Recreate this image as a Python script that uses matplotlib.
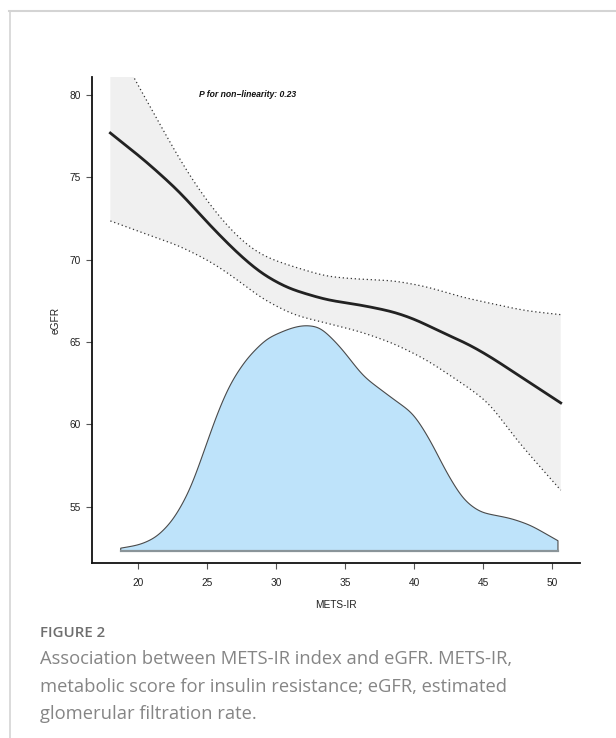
import numpy as np
import matplotlib.pyplot as plt
from matplotlib.patches import Polygon

# values
curve_x = [17.97, 20.46, 22.88, 25.29, 27.22, 28.91, 30.85, 33.65, 36.07, 38.48, 40.17, 42.1, 43.8, 45.49, 47.5, 50.6]
curve_y = [77.69, 76.03, 74.21, 71.99, 70.36, 69.15, 68.25, 67.55, 67.25, 66.84, 66.34, 65.53, 64.92, 64.11, 63.0, 61.3]

upper_x = [17.97, 19.49, 20.46, 21.67, 22.88, 24.09, 25.29, 26.5, 27.71, 29.16, 31.23, 33.65, 36.07, 38.48, 40.9, 43.31, 45.49, 48.0, 50.6]
upper_y = [83.8, 81.3, 79.88, 78.06, 76.24, 74.62, 73.2, 71.99, 70.97, 70.16, 69.57, 68.97, 68.81, 68.73, 68.36, 67.75, 67.35, 66.9, 66.66]

lower_x = [17.97, 20.46, 22.88, 25.29, 27.22, 28.91, 31.23, 33.65, 36.07, 38.48, 40.9, 42.35, 43.8, 45.49, 47.0, 48.8, 50.6]
lower_y = [72.35, 71.58, 70.87, 69.86, 68.75, 67.65, 66.64, 66.14, 65.63, 64.92, 63.91, 63.1, 62.29, 61.28, 59.46, 57.7, 56.0]

dens_x = [18.72, 20.12, 21.33, 22.54, 23.75, 24.96, 25.68, 26.65, 27.86, 29.3, 30.99, 31.96, 33.17, 34.62, 36.3, 38.72, 39.93, 41.14, 42.35, 43.55, 44.76, 46.99, 48.41, 50.4]
dens_y = [52.48, 52.68, 53.14, 54.19, 56.0, 58.85, 60.6, 62.49, 64.01, 65.22, 65.83, 66.03, 65.93, 64.72, 62.9, 61.38, 60.67, 59.05, 57.03, 55.4, 54.65, 54.29, 53.88, 52.93]
dens_base = 52.33

xticks = [20, 25, 30, 35, 40, 45, 50]
yticks = [55, 60, 65, 70, 75, 80]


def smooth(xs, ys, sigma, n=600):
    # dense linear resample, then a gaussian pass (odd reflection at the ends)
    gx = np.linspace(xs[0], xs[-1], n)
    gy = np.interp(gx, xs, ys)
    step = gx[1] - gx[0]
    k = int(4 * sigma / step)
    t = np.arange(-k, k + 1) * step
    w = np.exp(-0.5 * (t / sigma) ** 2)
    w /= w.sum()
    left = 2 * gy[0] - gy[1:k + 1][::-1]
    right = 2 * gy[-1] - gy[-k - 1:-1][::-1]
    padded = np.concatenate([left, gy, right])
    return gx, np.convolve(padded, w, mode='valid')


plt.rcParams['font.family'] = ['Liberation Sans', 'DejaVu Sans']

fig = plt.figure(figsize=(6.16, 7.38), dpi=100)
ax = fig.add_axes([92 / 616, 1 - 563.3 / 738, (579.5 - 92) / 616, (563.3 - 76.7) / 738])

cx, cy = smooth(curve_x, curve_y, 0.7)
ux, uy = smooth(upper_x, upper_y, 0.7)
lx, ly = smooth(lower_x, lower_y, 0.7)
dx, dy = smooth(dens_x, dens_y, 0.45)

# confidence band
band = np.concatenate([np.column_stack([ux, uy]), np.column_stack([lx, ly])[::-1]])
ax.add_patch(Polygon(band, closed=True, facecolor='#f0f0f0', edgecolor='none', zorder=1))

# density
dpoly = np.concatenate([[[dx[0], dens_base]], np.column_stack([dx, dy]), [[dx[-1], dens_base]]])
ax.add_patch(Polygon(dpoly, closed=True, facecolor='#bee3fa', edgecolor='#4a4a4a', lw=0.8, zorder=2))
ax.plot([dx[0], dx[-1]], [dens_base, dens_base], color='#8a9499', lw=1.6, zorder=3)

ax.plot(ux, uy, color='#333333', lw=0.9, ls=(0, (1, 2.2)), zorder=4)
ax.plot(lx, ly, color='#333333', lw=0.9, ls=(0, (1, 2.2)), zorder=4)
ax.plot(cx, cy, color='#222222', lw=2.0, zorder=5)

ax.text(24.36, 80, 'P for non\u2212linearity: 0.23', fontsize=6.2, fontweight='bold',
        fontstyle='italic', ha='left', va='center', color='#111111')

ax.set_xlim(16.64, 51.96)
ax.set_ylim(51.56, 81.11)
ax.set_xticks(xticks)
ax.set_yticks(yticks)
ax.spines['top'].set_visible(False)
ax.spines['right'].set_visible(False)
for s in ('left', 'bottom'):
    ax.spines[s].set_linewidth(1.3)
    ax.spines[s].set_color('#111111')
ax.tick_params(axis='both', length=4.3, width=0.8, color='#555555', labelsize=7.3,
               labelcolor='#222222')
ax.tick_params(axis='x', pad=6)
ax.tick_params(axis='y', pad=4)
ax.set_xlabel('METS-IR', fontsize=7.3, color='#222222', labelpad=9)
ax.set_ylabel('eGFR', fontsize=7.3, color='#222222', labelpad=6)

# card border
fig.add_artist(plt.Line2D([9 / 616, 1], [1 - 11 / 738, 1 - 11 / 738], color='#d4d4d4', lw=1.5))
fig.add_artist(plt.Line2D([9.5 / 616, 9.5 / 616], [0, 1 - 11 / 738], color='#d4d4d4', lw=1.2))

# caption
fig.text(40 / 616, 1 - 633 / 738, 'FIGURE 2', fontsize=10.8, family=['Open Sans', 'DejaVu Sans'],
         fontweight='semibold', color='#6e6e6e', ha='left', va='center')
caption = ['Association between METS-IR index and eGFR. METS-IR,',
           'metabolic score for insulin resistance; eGFR, estimated',
           'glomerular filtration rate.']
for i, line in enumerate(caption):
    fig.text(40 / 616, 1 - (659 + 27.5 * i) / 738, line, fontsize=13.2,
             family=['Open Sans', 'DejaVu Sans'], color='#858585',
             ha='left', va='center')

fig.savefig('out.png', dpi=100)
